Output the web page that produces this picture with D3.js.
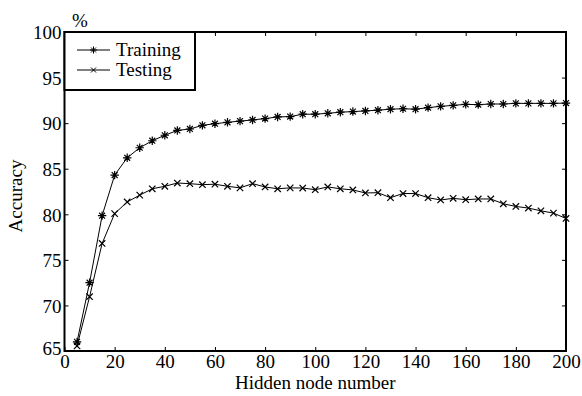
<!DOCTYPE html>
<html>
<head>
<meta charset="utf-8">
<script src="https://cdn.jsdelivr.net/npm/d3@7"></script>
<style>
  body { margin: 0; background: #fff; }
  svg text { font-family: "Liberation Serif", "Times New Roman", serif; fill: #000; }
</style>
</head>
<body>
<svg></svg>
<script>
const width = 582;
const height = 396;
const margin = { top: 32, right: 16, bottom: 45, left: 64.5 };
const fontSize = 19;

/* data */
const nodes = d3.range(5, 201, 5);
const training = [
  66.0, 72.5, 79.85, 84.3, 86.2, 87.3, 88.07, 88.67, 89.2, 89.36,
  89.76, 89.94, 90.09, 90.22, 90.35, 90.5, 90.68, 90.72, 90.98, 90.98,
  91.08, 91.2, 91.27, 91.34, 91.42, 91.53, 91.58, 91.53, 91.7, 91.84,
  91.95, 92.06, 92.03, 92.1, 92.1, 92.17, 92.17, 92.17, 92.17, 92.2
];
const testing = [
  65.55, 70.96, 76.8, 80.07, 81.35, 82.1, 82.8, 83.07, 83.43, 83.36,
  83.25, 83.3, 83.07, 82.9, 83.36, 83.0, 82.8, 82.9, 82.88, 82.7,
  83.0, 82.8, 82.67, 82.34, 82.37, 81.82, 82.28, 82.27, 81.82, 81.57,
  81.75, 81.6, 81.68, 81.68, 81.15, 80.86, 80.68, 80.38, 80.13, 79.54
];
const xTicks = [0, 20, 40, 60, 80, 100, 120, 140, 160, 180, 200];
const yTicks = [65, 70, 75, 80, 85, 90, 95, 100];
const seriesNames = ['Training', 'Testing'];

const svg = d3.select('svg')
  .attr('width', width)
  .attr('height', height);

const x = d3.scaleLinear()
  .domain([0, 200])
  .range([margin.left, width - margin.right]);

const y = d3.scaleLinear()
  .domain([65, 100])
  .range([height - margin.bottom, margin.top]);

/* marker shapes */
const star = r => `M${-r},0H${r}M0,${-r}V${r}M${-r*0.7},${-r*0.7}L${r*0.7},${r*0.7}M${-r*0.7},${r*0.7}L${r*0.7},${-r*0.7}`;
const cross = r => `M${-r},${-r}L${r},${r}M${-r},${r}L${r},${-r}`;
const markers = [star(4.2), cross(3.2)];

/* inward ticks on all four sides */
svg.append('g')
  .attr('transform', `translate(0,${y(65)})`)
  .call(d3.axisBottom(x).tickValues(xTicks).tickSizeInner(-4).tickSizeOuter(0).tickPadding(3))
  .call(g => g.select('.domain').remove())
  .call(g => g.selectAll('text').attr('font-size', fontSize));

svg.append('g')
  .attr('transform', `translate(${x(0)},0)`)
  .call(d3.axisLeft(y).tickValues(yTicks).tickSizeInner(-4).tickSizeOuter(0).tickPadding(3))
  .call(g => g.select('.domain').remove())
  .call(g => g.selectAll('text').attr('font-size', fontSize)
    .attr('dy', d => d === 65 ? '0.2em' : '0.36em'));

svg.append('g')
  .attr('transform', `translate(0,${y(100)})`)
  .call(d3.axisTop(x).tickValues(xTicks).tickSizeInner(-4).tickSizeOuter(0).tickFormat(''))
  .call(g => g.select('.domain').remove());

svg.append('g')
  .attr('transform', `translate(${x(200)},0)`)
  .call(d3.axisRight(y).tickValues(yTicks).tickSizeInner(-4).tickSizeOuter(0).tickFormat(''))
  .call(g => g.select('.domain').remove());

/* series */
const line = d3.line()
  .x((d, i) => x(nodes[i]))
  .y(d => y(d));

[training, testing].forEach((data, k) => {
  svg.append('path')
    .datum(data)
    .attr('d', line)
    .attr('fill', 'none')
    .attr('stroke', '#000')
    .attr('stroke-width', 1);

  svg.append('g')
    .selectAll('path')
    .data(data)
    .join('path')
      .attr('transform', (d, i) => `translate(${x(nodes[i])},${y(d)})`)
      .attr('d', markers[k])
      .attr('fill', 'none')
      .attr('stroke', '#000')
      .attr('stroke-width', 1.2);
});

/* frame */
svg.append('rect')
  .attr('x', x(0))
  .attr('y', y(100))
  .attr('width', x(200) - x(0))
  .attr('height', y(65) - y(100))
  .attr('fill', 'none')
  .attr('stroke', '#000')
  .attr('stroke-width', 2);

/* legend */
const legend = svg.append('g');
legend.append('rect')
  .attr('x', x(0))
  .attr('y', y(100))
  .attr('width', 130.5)
  .attr('height', 58)
  .attr('fill', '#fff')
  .attr('stroke', '#000')
  .attr('stroke-width', 2);

seriesNames.forEach((name, k) => {
  const ly = 50 + k * 20;
  legend.append('line')
    .attr('x1', 77).attr('x2', 110)
    .attr('y1', ly).attr('y2', ly)
    .attr('stroke', '#000');
  legend.append('path')
    .attr('transform', `translate(93.5,${ly})`)
    .attr('d', k === 0 ? star(3.5) : cross(2.5))
    .attr('fill', 'none')
    .attr('stroke', '#000');
  legend.append('text')
    .attr('x', 116)
    .attr('y', ly + 6)
    .attr('font-size', fontSize)
    .text(name);
});

/* axis labels */
svg.append('text')
  .attr('x', 72)
  .attr('y', 27)
  .attr('font-size', fontSize)
  .text('%');

svg.append('text')
  .attr('transform', `translate(22,${196}) rotate(-90)`)
  .attr('text-anchor', 'middle')
  .attr('font-size', fontSize)
  .text('Accuracy');

svg.append('text')
  .attr('x', (x(0) + x(200)) / 2)
  .attr('y', 389)
  .attr('text-anchor', 'middle')
  .attr('font-size', fontSize)
  .text('Hidden node number');
</script>
</body>
</html>
